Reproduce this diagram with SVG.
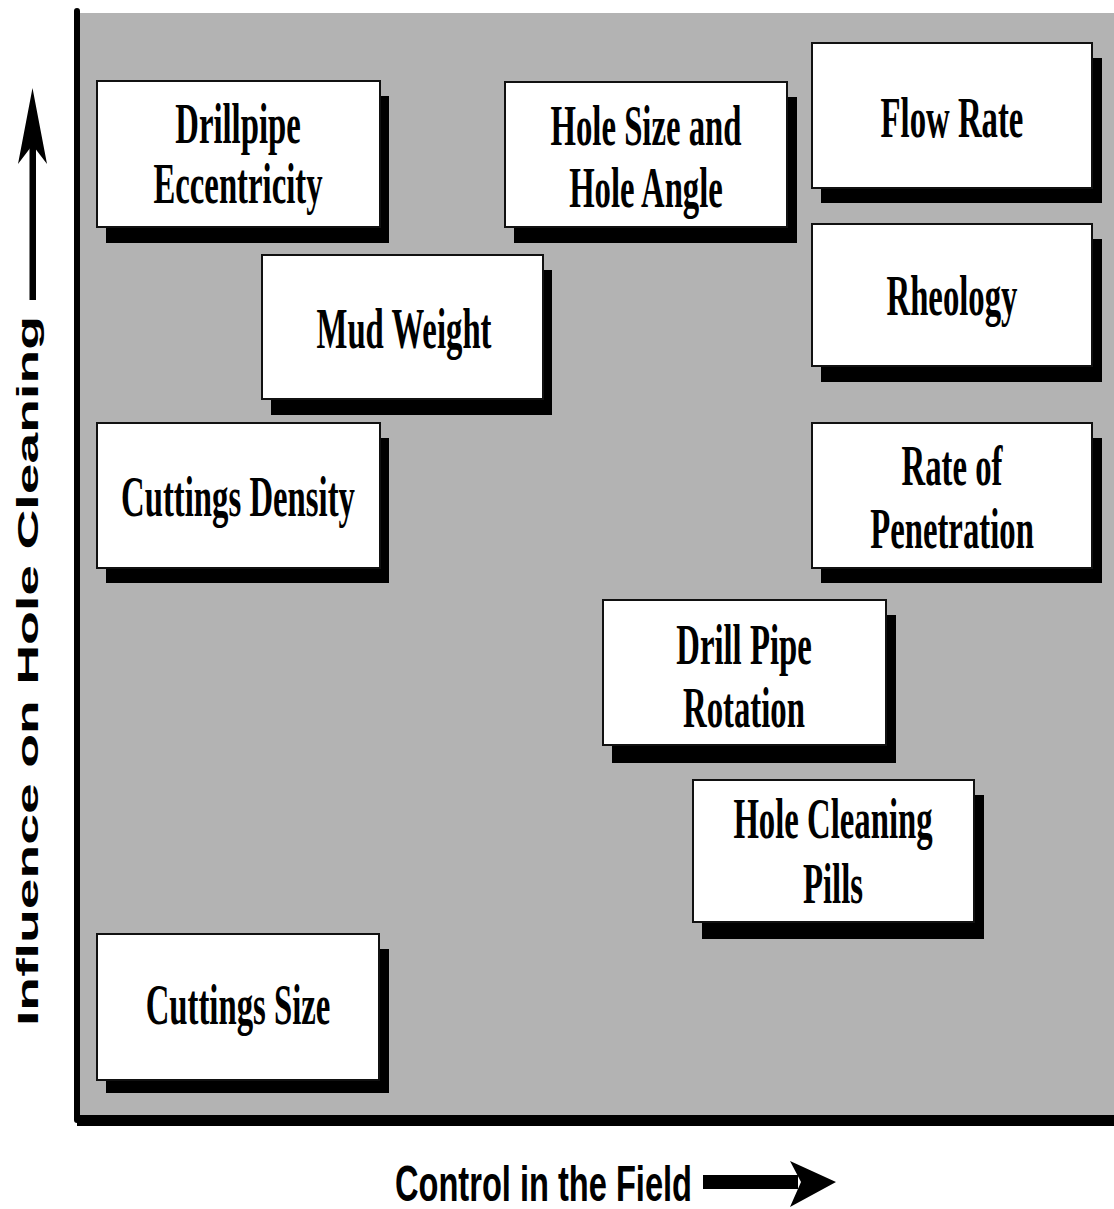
<svg xmlns="http://www.w3.org/2000/svg" width="1114" height="1209" viewBox="0 0 1114 1209">
<style>
.shadow{fill:#000}
.box{fill:#fff;stroke:#111;stroke-width:2}
.lbl{font-family:"Liberation Serif","Times New Roman",serif;font-weight:bold;font-size:56px;fill:#000;text-anchor:middle}
.axis{font-family:"Liberation Sans",Arial,sans-serif;font-weight:bold;fill:#000}
</style>
<rect x="0" y="0" width="1114" height="1209" fill="#fff"/>
<rect x="77" y="13" width="1037" height="1103" fill="#b3b3b3"/>
<path d="M77,11 L77,1120 L1114,1120" fill="none" stroke="#000" stroke-width="6" stroke-linejoin="round" stroke-linecap="round"/>
<rect x="77" y="1115" width="1037" height="11" fill="#000"/>

<g id="drillpipe-eccentricity">
<rect class="shadow" x="106" y="96" width="283" height="147"/>
<rect class="box" x="97" y="81" width="283" height="146"/>
<text class="lbl" transform="translate(238,0) scale(0.585,1)"><tspan x="0" y="143">Drillpipe</tspan><tspan x="0" y="203">Eccentricity</tspan></text>
</g>
<g id="hole-size-angle">
<rect class="shadow" x="514" y="97" width="283" height="146"/>
<rect class="box" x="505" y="82" width="282" height="145"/>
<text class="lbl" transform="translate(646,0) scale(0.585,1)"><tspan x="0" y="145">Hole Size and</tspan><tspan x="0" y="207">Hole Angle</tspan></text>
</g>
<g id="flow-rate">
<rect class="shadow" x="821" y="58" width="281" height="145"/>
<rect class="box" x="812" y="43" width="280" height="145"/>
<text class="lbl" transform="translate(952,0) scale(0.585,1)"><tspan x="0" y="137">Flow Rate</tspan></text>
</g>
<g id="rheology">
<rect class="shadow" x="821" y="239" width="281" height="143"/>
<rect class="box" x="812" y="224" width="280" height="142"/>
<text class="lbl" transform="translate(952,0) scale(0.585,1)"><tspan x="0" y="315">Rheology</tspan></text>
</g>
<g id="mud-weight">
<rect class="shadow" x="271" y="270" width="281" height="145"/>
<rect class="box" x="262" y="255" width="281" height="144"/>
<text class="lbl" transform="translate(404,0) scale(0.585,1)"><tspan x="0" y="348">Mud Weight</tspan></text>
</g>
<g id="cuttings-density">
<rect class="shadow" x="106" y="438" width="283" height="145"/>
<rect class="box" x="97" y="423" width="283" height="145"/>
<text class="lbl" transform="translate(238,0) scale(0.585,1)"><tspan x="0" y="516">Cuttings Density</tspan></text>
</g>
<g id="rate-of-penetration">
<rect class="shadow" x="821" y="438" width="281" height="145"/>
<rect class="box" x="812" y="423" width="280" height="145"/>
<text class="lbl" transform="translate(952,0) scale(0.585,1)"><tspan x="0" y="485">Rate of</tspan><tspan x="0" y="548">Penetration</tspan></text>
</g>
<g id="drill-pipe-rotation">
<rect class="shadow" x="612" y="615" width="284" height="148"/>
<rect class="box" x="603" y="600" width="283" height="145"/>
<text class="lbl" transform="translate(744,0) scale(0.585,1)"><tspan x="0" y="664">Drill Pipe</tspan><tspan x="0" y="727">Rotation</tspan></text>
</g>
<g id="hole-cleaning-pills">
<rect class="shadow" x="702" y="795" width="282" height="144"/>
<rect class="box" x="693" y="780" width="281" height="142"/>
<text class="lbl" transform="translate(833,0) scale(0.585,1)"><tspan x="0" y="838">Hole Cleaning</tspan><tspan x="0" y="903">Pills</tspan></text>
</g>
<g id="cuttings-size">
<rect class="shadow" x="106" y="949" width="283" height="144"/>
<rect class="box" x="97" y="934" width="282" height="146"/>
<text class="lbl" transform="translate(238,0) scale(0.585,1)"><tspan x="0" y="1024">Cuttings Size</tspan></text>
</g>

<g id="connectors">
<g id="y-axis-arrow">
<rect x="29.5" y="140" width="6.5" height="160" fill="#000"/>
<path d="M32.5,88 L47,164 L32.5,145 L18,164 Z" fill="#000"/>
</g>
<g id="x-axis-arrow">
<rect x="703" y="1175" width="95" height="14" fill="#000"/>
<path d="M836,1182 L790,1207 L801,1182 L790,1161 Z" fill="#000"/>
</g>
</g>

<g id="axis-labels">
<text class="axis" font-size="30" transform="translate(38,1026) rotate(-90)" textLength="710" lengthAdjust="spacingAndGlyphs">Influence on Hole Cleaning</text>
<text class="axis" font-size="50" x="395" y="1201" textLength="297" lengthAdjust="spacingAndGlyphs">Control in the Field</text>
</g>
</svg>
